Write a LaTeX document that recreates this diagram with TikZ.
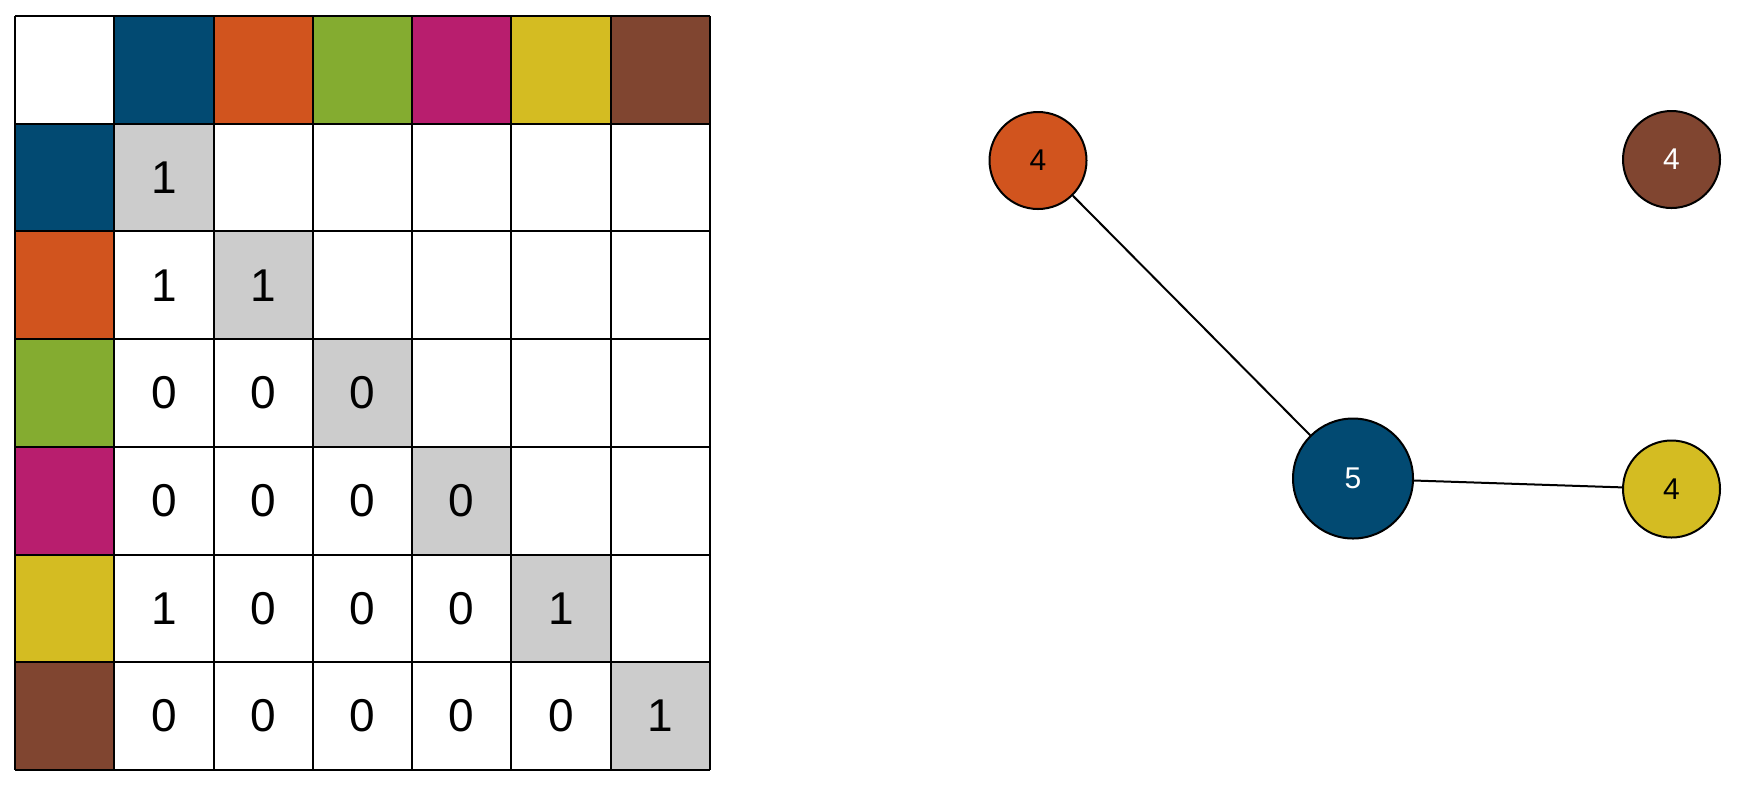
\documentclass[tikz,border=0pt]{standalone}
\usepackage{fontspec}
\setmainfont{Liberation Sans}
\definecolor{cblue}{RGB}{2,74,114}
\definecolor{corange}{RGB}{209,84,30}
\definecolor{cgreen}{RGB}{132,172,48}
\definecolor{cmagenta}{RGB}{184,30,110}
\definecolor{cyellow}{RGB}{212,188,34}
\definecolor{cbrown}{RGB}{128,69,48}
\definecolor{cgray}{RGB}{204,204,204}
\tikzset{
  vertex/.style={circle,draw,line width=1pt,minimum size=48.5pt,inner sep=0pt,
    font=\fontsize{15}{15}\selectfont},
  entry/.style={inner sep=0pt,font=\fontsize{23}{23}\selectfont}
}

\begin{document}
\begin{tikzpicture}[x=0.5pt,y=-0.5pt,line width=1pt]
  \useasboundingbox (0,0) rectangle (1739,784);

  % colour keys
  \foreach \c [count=\i] in {cblue,corange,cgreen,cmagenta,cyellow,cbrown} {
    \fill[\c] (15+99.29*\i,16) rectangle ++(99.29,107.7);
    \fill[\c] (15,16+107.7*\i) rectangle ++(99.29,107.7);
  }
  \foreach \i in {1,...,6}
    \fill[cgray] (15+99.29*\i,16+107.7*\i) rectangle ++(99.29,107.7);

  \foreach \i in {0,...,7} {
    \draw (15+99.29*\i,16) -- (15+99.29*\i,770);
    \draw (15,16+107.7*\i) -- (710,16+107.7*\i);
  }

  % lower triangle
  \foreach \r/\vals in {1/{1},2/{1,1},3/{0,0,0},4/{0,0,0,0},5/{1,0,0,0,1},6/{0,0,0,0,0,1}}
    \foreach \v [count=\c] in \vals
      \node[entry] (m-\r-\c) at (15+99.29*\c+49.6,16+107.7*\r+53.9) {\v};

  % graph
  \node[vertex,fill=corange] (orange) at (1038,160.5) {4};
  \node[vertex,fill=cbrown,text=white] (brown) at (1671.5,159.5) {4};
  \node[vertex,fill=cblue,text=white,minimum size=60pt] (blue) at (1353,478.5) {5};
  \node[vertex,fill=cyellow] (yellow) at (1671.5,489) {4};

  \draw (orange) -- (blue);
  \draw (blue) -- (yellow);
\end{tikzpicture}
\end{document}
